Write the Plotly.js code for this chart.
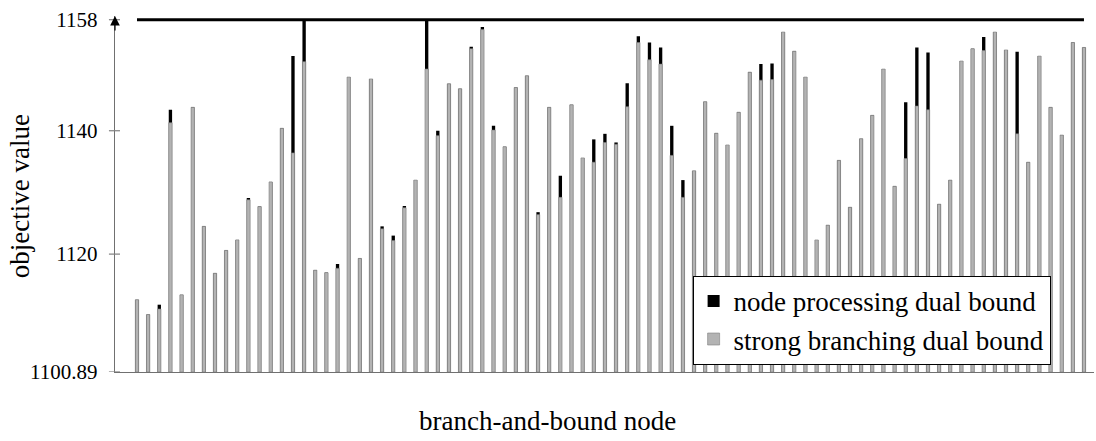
<!DOCTYPE html>
<html>
<head>
<meta charset="utf-8">
<script src="https://cdn.plot.ly/plotly-3.0.1.min.js"></script>
<style>
  html, body { margin: 0; padding: 0; background: #ffffff; }
  #chart { width: 1096px; height: 441px; }
</style>
</head>
<body>
<div id="chart"></div>
<script>
// strong branching dual bound (gray bars), one per branch-and-bound node
const strongBranchingBound = [
  1112.6, 1110.2, 1111.1, 1141.3, 1113.4, 1143.8, 1124.5, 1116.9, 1120.6, 1122.3,
  1128.8, 1127.7, 1131.7, 1140.4, 1136.4, 1151.2, 1117.4, 1117.0, 1117.7, 1148.7,
  1119.3, 1148.4, 1124.1, 1122.2, 1127.5, 1132.0, 1150.0, 1139.2, 1147.6, 1146.8,
  1153.3, 1156.4, 1140.1, 1137.4, 1147.0, 1148.9, 1126.4, 1143.8, 1129.2, 1144.2,
  1135.6, 1134.9, 1138.1, 1137.8, 1143.9, 1154.3, 1151.5, 1150.8, 1136.0, 1129.2,
  1133.5, 1144.7, 1139.6, 1137.7, 1143.0, 1149.5, 1148.2, 1148.3, 1156.0, 1152.9,
  1148.7, 1122.3, 1124.7, 1135.2, 1127.6, 1138.7, 1142.5, 1150.0, 1131.0, 1135.5,
  1144.0, 1143.4, 1128.1, 1132.0, 1151.3, 1153.3, 1153.0, 1156.0, 1153.1, 1139.5,
  1134.9, 1152.1, 1143.8, 1139.3, 1154.3, 1153.5
];
// node processing dual bound (black bars)
const nodeProcessingBound = [
  1112.6, 1110.2, 1111.8, 1143.4, 1113.4, 1143.8, 1124.5, 1116.9, 1120.6, 1122.3,
  1129.1, 1127.7, 1131.7, 1140.4, 1152.1, 1158.0, 1117.4, 1117.0, 1118.4, 1148.7,
  1119.3, 1148.4, 1124.5, 1123.0, 1127.8, 1132.0, 1158.0, 1140.0, 1147.6, 1146.8,
  1153.6, 1156.8, 1140.8, 1137.4, 1147.0, 1148.9, 1126.8, 1143.8, 1132.7, 1144.2,
  1135.6, 1138.6, 1139.5, 1138.1, 1147.7, 1155.3, 1154.3, 1153.5, 1140.8, 1132.0,
  1133.5, 1144.7, 1139.6, 1137.7, 1143.0, 1149.5, 1150.8, 1150.9, 1156.0, 1152.9,
  1148.7, 1122.3, 1124.7, 1135.2, 1127.6, 1138.7, 1142.5, 1150.0, 1131.0, 1144.6,
  1153.5, 1152.7, 1128.1, 1132.0, 1151.3, 1153.3, 1155.2, 1156.0, 1153.1, 1152.8,
  1134.9, 1152.1, 1143.8, 1139.3, 1154.3, 1153.5
];
const cutoffBound = 1158;
const axisMin = 1100.89;
const yTickValues = [1100.89, 1120, 1140, 1158];
const yTickLabels = ["1100.89", "1120", "1140", "1158"];
const seriesNames = ["node processing dual bound", "strong branching dual bound"];

const nodes = strongBranchingBound.map((_, i) => i + 1);
const FONT = "'Liberation Serif', 'DejaVu Serif', serif";

const traces = [
  {
    type: "bar",
    name: seriesNames[0],
    x: nodes,
    y: nodeProcessingBound.map(v => v - axisMin),
    base: axisMin,
    width: 0.3,
    marker: { color: "#000000", line: { width: 0 } },
    hoverinfo: "skip"
  },
  {
    type: "bar",
    name: seriesNames[1],
    x: nodes,
    y: strongBranchingBound.map(v => v - axisMin),
    base: axisMin,
    width: 0.3,
    marker: { color: "#b3b3b3", line: { color: "#808080", width: 0.6 } },
    hoverinfo: "skip"
  },
  {
    type: "scatter",
    mode: "lines",
    x: [nodes[0], nodes[nodes.length - 1]],
    y: [cutoffBound, cutoffBound],
    line: { color: "#000000", width: 3 },
    showlegend: false,
    hoverinfo: "skip",
    cliponaxis: false
  }
];

const tickShapes = yTickValues.map(v => ({
  type: "line", xref: "paper", yref: "y",
  x0: -0.0062, x1: 0.0051, y0: v, y1: v,
  line: { color: "#808080", width: 1.2 }
}));

const layout = {
  width: 1096,
  height: 441,
  margin: { l: 115, r: 2, t: 16, b: 69 },
  paper_bgcolor: "#ffffff",
  plot_bgcolor: "#ffffff",
  barmode: "overlay",
  showlegend: true,
  font: { family: FONT, color: "#000000" },
  legend: {
    x: 0.59, y: 0.27, xanchor: "left", yanchor: "top",
    bgcolor: "#ffffff", bordercolor: "#000000", borderwidth: 1,
    font: { family: FONT, size: 27, color: "#000000" },
    traceorder: "normal",
    tracegroupgap: 0,
    itemwidth: 30
  },
  xaxis: {
    range: [-0.975, 86.9],
    showline: true, linecolor: "#707070", linewidth: 1.3,
    showgrid: false, zeroline: false,
    showticklabels: false, ticks: ""
  },
  yaxis: {
    range: [axisMin, 1158.6],
    showline: true, linecolor: "#707070", linewidth: 1.3,
    showgrid: false, zeroline: false,
    tickmode: "array", tickvals: yTickValues, ticktext: yTickLabels,
    ticks: "", ticklabelstandoff: 12,
    tickfont: { family: FONT, size: 21, color: "#000000" }
  },
  shapes: tickShapes,
  annotations: [
    {
      xref: "paper", yref: "paper", x: 0, y: 1,
      showarrow: true, ax: 0, ay: 16,
      arrowhead: 2, arrowsize: 1.6, arrowwidth: 1.2, arrowcolor: "#000000",
      text: ""
    },
    {
      xref: "paper", yref: "paper", x: -0.097, y: 0.494,
      xanchor: "center", yanchor: "middle", textangle: -90,
      showarrow: false, text: "objective value",
      font: { family: FONT, size: 27, color: "#000000" }
    },
    {
      xref: "paper", yref: "paper", x: 0.442, y: -0.138,
      xanchor: "center", yanchor: "middle",
      showarrow: false, text: "branch-and-bound node",
      font: { family: FONT, size: 27, color: "#000000" }
    }
  ]
};

Plotly.newPlot("chart", traces, layout, { staticPlot: true, displayModeBar: false });
</script>
</body>
</html>
